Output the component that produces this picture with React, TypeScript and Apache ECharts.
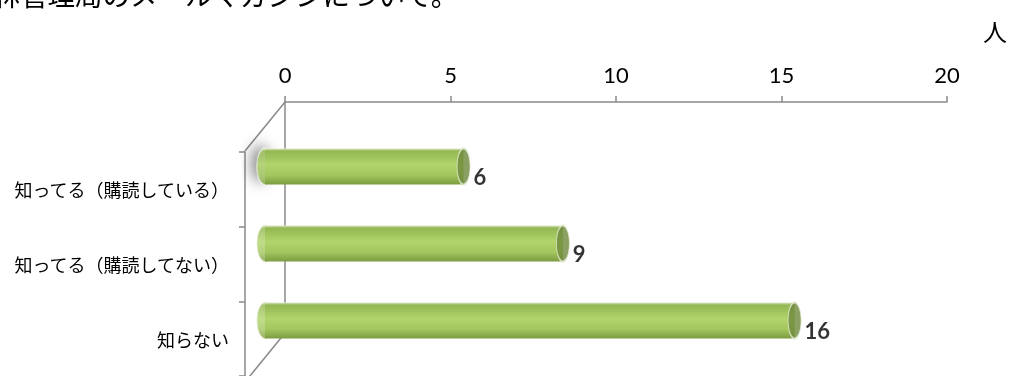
import React, { useEffect, useRef } from "react";
import * as echarts from "echarts";

const categories = ["知ってる（購読している）", "知ってる（購読してない）", "知らない"];
const values = [6, 9, 16];
const axisMin = 0;
const axisMax = 20;
const axisInterval = 5;
const titleText = "森林管理局のメールマガジンについて。";
const unitText = "人";

const GRAY = "#8a8a8a";

export default function App() {
  const ref = useRef<HTMLDivElement>(null);
  useEffect(() => {
    if (!ref.current) return;
    const chart = echarts.init(ref.current, undefined, { renderer: "svg" });
    const back = { left: 285, top: 102, width: 662, height: 231 };
    const dx = -40;
    const dy = 49;
    const barGradient = new echarts.graphic.LinearGradient(0, 0, 0, 1, [
      { offset: 0, color: "#dfe9c9" },
      { offset: 0.07, color: "#93b752" },
      { offset: 0.45, color: "#b1d46b" },
      { offset: 0.75, color: "#a2c55e" },
      { offset: 1, color: "#7c9c40" },
    ]);
    const option: any = {
      animation: false,
      grid: [
        { left: back.left, top: back.top, width: back.width, height: back.height },
        { left: back.left + dx, top: back.top + dy + 1, width: back.width, height: back.height },
        { left: back.left + dx / 2, top: back.top + 26, width: back.width, height: back.height },
      ],
      xAxis: [
        {
          gridIndex: 0,
          type: "value",
          position: "top",
          min: axisMin,
          max: axisMax,
          interval: axisInterval,
          axisLine: { show: true, lineStyle: { color: GRAY, width: 1.5 } },
          axisTick: { show: true, length: 6, lineStyle: { color: GRAY, width: 1.5 } },
          axisLabel: { fontSize: 22, color: "#000", margin: 17, fontFamily: "Lato" },
          splitLine: { show: false },
        },
        { gridIndex: 1, type: "value", min: axisMin, max: axisMax, show: false },
        { gridIndex: 2, type: "value", min: axisMin, max: axisMax, show: false },
      ],
      yAxis: [
        {
          gridIndex: 0,
          type: "category",
          data: categories,
          inverse: true,
          axisLine: { show: true, lineStyle: { color: GRAY, width: 1.5 } },
          axisTick: { show: false },
          axisLabel: { show: false },
        },
        {
          gridIndex: 1,
          type: "category",
          data: categories,
          inverse: true,
          axisLine: { show: true, lineStyle: { color: GRAY, width: 1.5 } },
          axisTick: { show: true, length: 6, lineStyle: { color: GRAY, width: 1.5 } },
          axisLabel: {
            fontSize: 18,
            color: "#000",
            margin: 16,
            padding: [7, 0, 0, 0],
            fontFamily: "Noto Sans CJK JP",
          },
        },
        { gridIndex: 2, type: "category", data: categories, inverse: true, show: false },
      ],
      series: [
        {
          type: "scatter",
          xAxisIndex: 2,
          yAxisIndex: 2,
          z: 1,
          symbol: "circle",
          symbolSize: [16, 36],
          data: categories.map((c, i) => ({
            value: [0, c],
            itemStyle:
              i === 0
                ? {
                    shadowBlur: 14,
                    shadowColor: "rgba(0,0,0,0.6)",
                    shadowOffsetX: -5,
                    shadowOffsetY: -3,
                  }
                : {},
          })),
          itemStyle: { color: barGradient, borderColor: "#e6eed8", borderWidth: 1 },
        },
        {
          type: "bar",
          xAxisIndex: 2,
          yAxisIndex: 2,
          z: 2,
          barWidth: 36,
          data: values,
          itemStyle: { color: barGradient },
        },
        {
          type: "scatter",
          xAxisIndex: 2,
          yAxisIndex: 2,
          z: 3,
          symbol: "circle",
          symbolSize: [13, 36],
          data: values.map((v, i) => [v, categories[i]]),
          itemStyle: { color: "#6d883b", borderColor: "#e3ebd3", borderWidth: 1.5 },
          label: {
            show: true,
            position: "right",
            distance: 3,
            offset: [0, 10],
            formatter: (p: any) => String(p.value[0]),
            fontSize: 22,
            fontWeight: "bold",
            color: "#000",
            fontFamily: "Lato",
          },
        },
      ],
      graphic: [
        {
          type: "line",
          shape: { x1: back.left, y1: back.top, x2: back.left + dx, y2: back.top + dy },
          style: { stroke: GRAY, lineWidth: 1.5 },
        },
        {
          type: "line",
          shape: {
            x1: back.left,
            y1: back.top + back.height,
            x2: back.left + dx,
            y2: back.top + back.height + dy,
          },
          style: { stroke: GRAY, lineWidth: 1.5 },
        },
        {
          type: "text",
          x: -35,
          y: -6,
          style: {
            text: titleText,
            fontSize: 27.5,
            fill: "#000",
            fontFamily: "Noto Sans CJK JP",
            align: "left",
            verticalAlign: "middle",
          },
        },
        {
          type: "text",
          x: 995,
          y: 30,
          style: {
            text: unitText,
            fontSize: 24,
            fill: "#000",
            fontFamily: "Noto Sans CJK JP",
            align: "center",
            verticalAlign: "middle",
          },
        },
      ],
    };
    chart.setOption(option);
    return () => chart.dispose();
  }, []);
  return <div ref={ref} style={{ width: 1010, height: 376, position: "fixed", left: 0, top: 0 }} />;
}
